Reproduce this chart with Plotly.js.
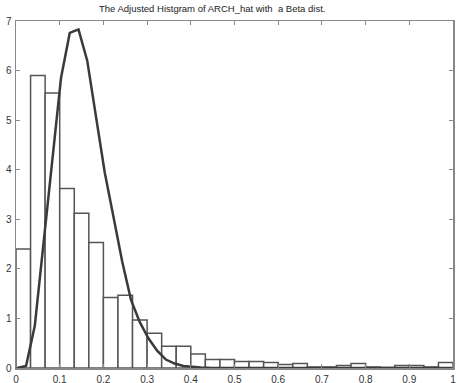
<!DOCTYPE html>
<html>
<head>
<meta charset="utf-8">
<script src="https://cdn.plot.ly/plotly-3.0.1.min.js"></script>
<style>html,body{margin:0;padding:0;background:#fff;}#chart{width:457px;height:383px;}</style>
</head>
<body>
<div id="chart"></div>
<script>
// Histogram: 30 bins over [0,1]
const binWidth = 1 / 30;
const binHeights = [2.40, 5.90, 5.55, 3.62, 3.12, 2.53, 1.42, 1.47, 0.97, 0.70,
                    0.44, 0.44, 0.28, 0.17, 0.17, 0.13, 0.13, 0.11, 0.07, 0.09,
                    0.02, 0.02, 0.05, 0.09, 0.02, 0.01, 0.05, 0.05, 0.02, 0.11];
const binCenters = binHeights.map((_, i) => (i + 0.5) * binWidth);

// Fitted Beta density
const betaX = [0.003, 0.023, 0.043, 0.063, 0.083, 0.103, 0.123, 0.143, 0.163, 0.183,
               0.203, 0.223, 0.243, 0.263, 0.283, 0.303, 0.323, 0.343, 0.363, 0.383,
               0.403, 0.423, 0.443, 0.463, 0.483, 0.503, 0.6, 0.7, 0.8, 0.9, 0.997];
const betaY = [0.00, 0.04, 0.85, 2.50, 4.20, 5.85, 6.76, 6.83, 6.20, 5.05,
               3.95, 3.05, 2.15, 1.38, 0.93, 0.60, 0.35, 0.17, 0.09, 0.04,
               0.02, 0.01, 0.005, 0.003, 0.002, 0.001, 0, 0, 0, 0, 0];

const xTicks = [0, 0.1, 0.2, 0.3, 0.4, 0.5, 0.6, 0.7, 0.8, 0.9, 1];
const xTickText = ["0", "0.1", "0.2", "0.3", "0.4", "0.5", "0.6", "0.7", "0.8", "0.9", "1"];
const yTicks = [0, 1, 2, 3, 4, 5, 6, 7];

const traces = [
  {
    type: 'bar', x: binCenters, y: binHeights, width: binWidth,
    marker: {color: '#ffffff', line: {color: '#555555', width: 1.5}},
    hoverinfo: 'skip'
  },
  {
    type: 'scatter', mode: 'lines', x: betaX, y: betaY,
    line: {color: '#3a3a3a', width: 2.5}, hoverinfo: 'skip'
  }
];

const axisCommon = {
  showgrid: false, zeroline: false, showline: true, mirror: 'ticks',
  linecolor: '#888888', linewidth: 1.5,
  ticks: 'inside', ticklen: 4, tickcolor: '#888888', tickwidth: 1,
  ticklabeloverflow: 'allow',
  tickfont: {family: 'Liberation Sans, Arial, sans-serif', size: 10, color: '#333333'}
};

const layout = {
  width: 457, height: 383,
  margin: {l: 16, r: 4, t: 21, b: 15, pad: 0},
  paper_bgcolor: '#ffffff', plot_bgcolor: '#ffffff',
  showlegend: false, bargap: 0,
  title: {
    text: 'The Adjusted Histgram of ARCH_hat with  a Beta dist.',
    font: {family: 'Liberation Sans, Arial, sans-serif', size: 9.5, color: '#222222'},
    xref: 'paper', x: 0.449, xanchor: 'center', y: 0.985, yanchor: 'top'
  },
  xaxis: Object.assign({}, axisCommon, {
    range: [0, 1], tickvals: xTicks, ticktext: xTickText, ticklabelstandoff: 1
  }),
  yaxis: Object.assign({}, axisCommon, {
    range: [0, 7], tickvals: yTicks, ticklabelstandoff: 1
  })
};

Plotly.newPlot('chart', traces, layout, {staticPlot: true, displayModeBar: false});
</script>
</body>
</html>
